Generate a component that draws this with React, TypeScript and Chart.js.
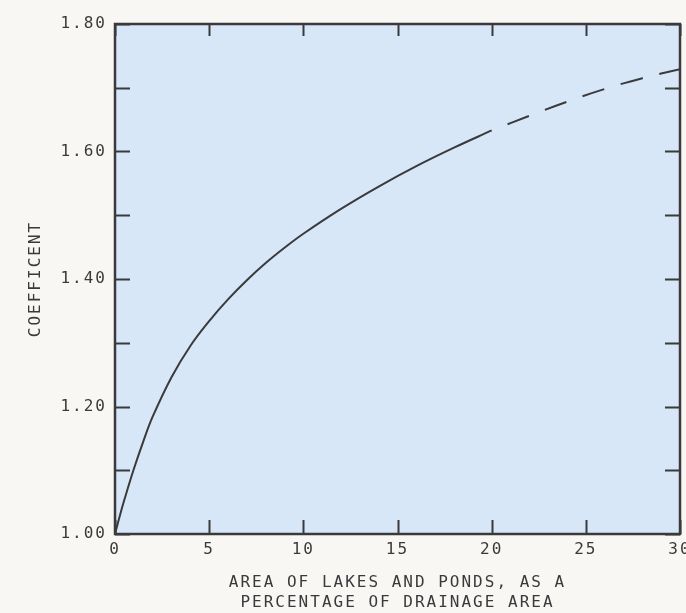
import React, { useEffect, useRef } from "react";
import { Chart, registerables } from "chart.js";

Chart.register(...registerables);

// Observed curve (solid part), x = % area of lakes and ponds
const solidX = [0, 0.25, 0.5, 1, 1.5, 2, 3, 4, 5, 6, 7, 8, 9, 10, 12, 14, 16, 18, 20];
const solidY = [1.0, 1.028, 1.054, 1.102, 1.145, 1.184, 1.246, 1.295, 1.334, 1.368, 1.398, 1.425, 1.449, 1.471, 1.51, 1.545, 1.577, 1.606, 1.633];
// Extrapolated curve (dashed part)
const dashX = [20, 22, 24, 26, 28, 30];
const dashY = [1.633, 1.656, 1.678, 1.698, 1.715, 1.729];

const xTickValues = [0, 5, 10, 15, 20, 25, 30];
const yTickValues = [1.0, 1.1, 1.2, 1.3, 1.4, 1.5, 1.6, 1.7, 1.8];
const yLabelValues = [1.0, 1.2, 1.4, 1.6, 1.8];

const yTitle = "COEFFICENT";
const xTitle = ["AREA OF LAKES AND PONDS, AS A", "PERCENTAGE OF DRAINAGE AREA"];

const PAGE_BG = "#f8f7f4";
const PLOT_BG = "#d7e7f7";
const INK = "#3a3a3c";
const FONT = "'DejaVu Sans Mono', monospace";

const framePlugin = {
  id: "frame",
  beforeLayout(chart: any) {
    chart.ctx.letterSpacing = "2px";
  },
  beforeDraw(chart: any) {
    const { ctx, chartArea: a } = chart;
    ctx.save();
    ctx.fillStyle = PAGE_BG;
    ctx.fillRect(0, 0, chart.width, chart.height);
    ctx.fillStyle = PLOT_BG;
    ctx.fillRect(a.left, a.top, a.right - a.left, a.bottom - a.top);
    ctx.restore();
    ctx.letterSpacing = "2px";
  },
  afterDraw(chart: any) {
    const { ctx, chartArea: a, scales } = chart;
    const xs = scales.x;
    const ys = scales.y;
    ctx.save();
    ctx.strokeStyle = INK;
    ctx.lineCap = "butt";
    ctx.lineWidth = 2.5;
    ctx.strokeRect(a.left, a.top, a.right - a.left, a.bottom - a.top);
    ctx.lineWidth = 2;
    ctx.beginPath();
    yTickValues.forEach((v) => {
      const y = Math.round(ys.getPixelForValue(v)) + 0.5;
      ctx.moveTo(a.left, y);
      ctx.lineTo(a.left + 15, y);
      ctx.moveTo(a.right, y);
      ctx.lineTo(a.right - 15, y);
    });
    xTickValues.forEach((v) => {
      const x = Math.round(xs.getPixelForValue(v)) + 0.5;
      ctx.moveTo(x, a.bottom);
      ctx.lineTo(x, a.bottom - 14);
      ctx.moveTo(x, a.top);
      ctx.lineTo(x, a.top + 12);
    });
    ctx.stroke();
    ctx.restore();
    ctx.letterSpacing = "0px";
  },
};

export default function App() {
  const ref = useRef<HTMLCanvasElement | null>(null);

  useEffect(() => {
    if (!ref.current) return;
    const chart = new Chart(ref.current, {
      type: "line",
      data: {
        datasets: [
          {
            data: solidX.map((x, i) => ({ x, y: solidY[i] })),
            borderColor: INK,
            borderWidth: 2,
            pointRadius: 0,
            tension: 0.4,
            fill: false,
          },
          {
            data: dashX.map((x, i) => ({ x, y: dashY[i] })),
            borderColor: INK,
            borderWidth: 2,
            pointRadius: 0,
            borderDash: [23, 17],
            borderDashOffset: 23,
            tension: 0.4,
            fill: false,
          },
        ],
      },
      options: {
        animation: false,
        responsive: false,
        maintainAspectRatio: false,
        layout: { autoPadding: false, padding: { left: 0, top: 24, right: 6, bottom: 0 } },
        plugins: { legend: { display: false }, tooltip: { enabled: false } },
        scales: {
          x: {
            type: "linear",
            min: 0,
            max: 30,
            afterFit: (s: any) => {
              s.height = 79;
              s.paddingLeft = 0;
              s.paddingRight = 0;
            },
            afterBuildTicks: (s: any) => {
              s.ticks = xTickValues.map((v) => ({ value: v }));
            },
            grid: { display: false, drawTicks: false },
            border: { display: false },
            ticks: {
              padding: 6,
              color: INK,
              font: { family: FONT, size: 16 },
              maxRotation: 0,
              callback: (v: any) => String(v),
            },
            title: {
              display: true,
              text: xTitle,
              color: INK,
              font: { family: FONT, size: 16, lineHeight: 1.25 },
              padding: { top: 0, bottom: 0 },
            },
          },
          y: {
            type: "linear",
            min: 1.0,
            max: 1.8,
            afterFit: (s: any) => {
              s.width = 115;
              s.paddingTop = 0;
              s.paddingBottom = 0;
            },
            afterBuildTicks: (s: any) => {
              s.ticks = yLabelValues.map((v) => ({ value: v }));
            },
            grid: { display: false, drawTicks: false },
            border: { display: false },
            ticks: {
              padding: 8,
              color: INK,
              font: { family: FONT, size: 16 },
              callback: (v: any) => Number(v).toFixed(2),
            },
            title: {
              display: true,
              text: yTitle,
              color: INK,
              font: { family: FONT, size: 16 },
              padding: { top: 26, bottom: 0 },
            },
          },
        },
      },
      plugins: [framePlugin],
    });
    return () => chart.destroy();
  }, []);

  return (
    <div style={{ position: "fixed", left: 0, top: 0, width: 686, height: 613, background: PAGE_BG }}>
      <canvas ref={ref} width={686} height={613} style={{ display: "block" }} />
    </div>
  );
}
